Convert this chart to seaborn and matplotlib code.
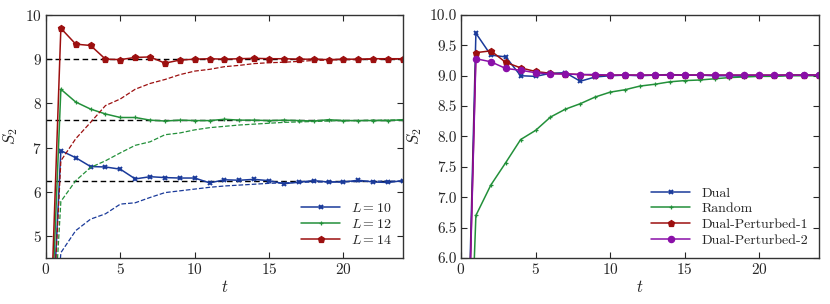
import numpy as np
import matplotlib
matplotlib.use("Agg")
import matplotlib.pyplot as plt
import seaborn as sns

# time steps (t = 0 starts at zero entropy)
t = np.arange(0, 25)

# left panel: dual (solid) and random (dashed) circuits per system size
dual_L10 = [0.0, 6.93, 6.77, 6.57, 6.56, 6.51, 6.29, 6.34, 6.32, 6.31, 6.31, 6.20, 6.27,
            6.26, 6.28, 6.25, 6.18, 6.22, 6.25, 6.22, 6.22, 6.26, 6.22, 6.21, 6.25]
dual_L12 = [0.0, 8.32, 8.03, 7.87, 7.76, 7.68, 7.68, 7.62, 7.60, 7.62, 7.61, 7.61, 7.64,
            7.62, 7.62, 7.61, 7.62, 7.61, 7.60, 7.63, 7.61, 7.61, 7.61, 7.61, 7.63]
dual_L14 = [0.0, 9.70, 9.34, 9.31, 9.00, 8.99, 9.04, 9.05, 8.91, 8.98, 9.00, 9.01, 9.00,
            9.01, 9.02, 9.01, 9.01, 9.00, 9.00, 8.99, 9.00, 9.00, 9.01, 9.01, 9.01]
rand_L10 = [0.0, 4.62, 5.12, 5.38, 5.50, 5.72, 5.75, 5.87, 5.98, 6.02, 6.06, 6.10, 6.13,
            6.15, 6.17, 6.19, 6.20, 6.21, 6.22, 6.22, 6.23, 6.23, 6.24, 6.24, 6.24]
rand_L12 = [0.0, 5.78, 6.25, 6.55, 6.70, 6.88, 7.05, 7.13, 7.29, 7.33, 7.40, 7.45, 7.48,
            7.51, 7.53, 7.55, 7.57, 7.58, 7.59, 7.60, 7.61, 7.61, 7.62, 7.62, 7.62]
rand_L14 = [0.0, 6.70, 7.20, 7.57, 7.95, 8.10, 8.32, 8.45, 8.54, 8.65, 8.73, 8.77, 8.83,
            8.86, 8.90, 8.92, 8.93, 8.95, 8.97, 8.98, 8.99, 8.99, 9.00, 9.00, 9.00]
page_values = [6.24, 7.62, 9.01]
size_labels = [r"$L=10$", r"$L=12$", r"$L=14$"]

# right panel: L = 14 strategies
pert_1 = [0.0, 9.38, 9.41, 9.22, 9.13, 9.07, 9.04, 9.03, 9.02, 9.01, 9.01, 9.01, 9.01,
          9.01, 9.01, 9.01, 9.01, 9.01, 9.01, 9.01, 9.01, 9.01, 9.01, 9.01, 9.01]
pert_2 = [0.0, 9.28, 9.23, 9.12, 9.09, 9.05, 9.03, 9.03, 9.02, 9.02, 9.01, 9.01, 9.01,
          9.01, 9.01, 9.01, 9.01, 9.01, 9.01, 9.01, 9.01, 9.01, 9.01, 9.01, 9.01]
strategy_labels = ["Dual", "Random", "Dual-Perturbed-1", "Dual-Perturbed-2"]

blue = "#1a3a9a"
green = "#23903a"
red = "#9c0f0f"
purple = "#8a0fa8"

sns.set_theme(style="ticks")
plt.rcParams.update({
    "font.family": "serif",
    "font.serif": ["cmr10", "DejaVu Serif"],
    "mathtext.fontset": "cm",
    "axes.formatter.use_mathtext": True,
    "font.size": 11,
    "axes.labelsize": 12,
    "xtick.labelsize": 11,
    "ytick.labelsize": 11,
    "legend.fontsize": 10,
    "xtick.direction": "in",
    "ytick.direction": "in",
    "xtick.top": True,
    "ytick.right": True,
    "axes.edgecolor": "#333333",
    "axes.linewidth": 1.0,
})

fig = plt.figure(figsize=(8.3, 3.04), dpi=100)
ax1 = fig.add_axes([0.0554, 0.1513, 0.4301, 0.7994])
ax2 = fig.add_axes([0.5554, 0.1513, 0.4313, 0.7994])

# ---- left panel
marks = ["x", "+", "p"]
msizes = [3.5, 3.5, 4.5]
mews = [1.4, 0.9, 0.9]
cols = [blue, green, red]
for dual, rnd, lab, c, m, ms, mew in zip([dual_L10, dual_L12, dual_L14],
                                         [rand_L10, rand_L12, rand_L14],
                                         size_labels, cols, marks, msizes, mews):
    sns.lineplot(x=t, y=dual, ax=ax1, color=c, marker=m, markersize=ms,
                 markeredgewidth=mew, markeredgecolor=c, linewidth=1.1, label=lab)
    sns.lineplot(x=t, y=rnd, ax=ax1, color=c, linestyle="--", linewidth=0.9)
for v in page_values:
    ax1.axhline(v, color="black", linestyle=(0, (4, 2.5)), linewidth=1.0, zorder=1)

ax1.set_xlim(0, 24)
ax1.set_ylim(4.5, 10)
ax1.set_xticks([0, 5, 10, 15, 20])
ax1.set_yticks([5, 6, 7, 8, 9, 10])
ax1.set_xlabel(r"$t$", labelpad=1)
ax1.set_ylabel(r"$S_2$", labelpad=4)
ax1.legend(loc="lower right", frameon=False, handlelength=2.8, borderaxespad=0.4,
           labelspacing=0.22)

# ---- right panel
series = [dual_L14, rand_L14, pert_1, pert_2]
cols2 = [blue, green, red, purple]
marks2 = ["x", "+", "p", "o"]
msizes2 = [3.5, 3.0, 4.5, 4.5]
mews2 = [1.4, 0.9, 0.9, 0.9]
for y, lab, c, m, ms, mew in zip(series, strategy_labels, cols2, marks2, msizes2, mews2):
    sns.lineplot(x=t, y=y, ax=ax2, color=c, marker=m, markersize=ms,
                 markeredgewidth=mew, markeredgecolor=c, linewidth=1.1, label=lab)

ax2.set_xlim(0, 24)
ax2.set_ylim(6.0, 10.0)
ax2.set_xticks([0, 5, 10, 15, 20])
ax2.set_yticks(np.arange(6.0, 10.01, 0.5))
ax2.set_yticklabels([f"{v:.1f}" for v in np.arange(6.0, 10.01, 0.5)])
ax2.set_xlabel(r"$t$", labelpad=1)
ax2.set_ylabel(r"$S_2$", labelpad=4)
ax2.legend(loc="lower right", frameon=False, handlelength=2.8, borderaxespad=0.4,
           labelspacing=0.22)

for ax in (ax1, ax2):
    ax.tick_params(which="major", length=4, width=0.8, pad=3)

fig.savefig("out.png", dpi=100)
